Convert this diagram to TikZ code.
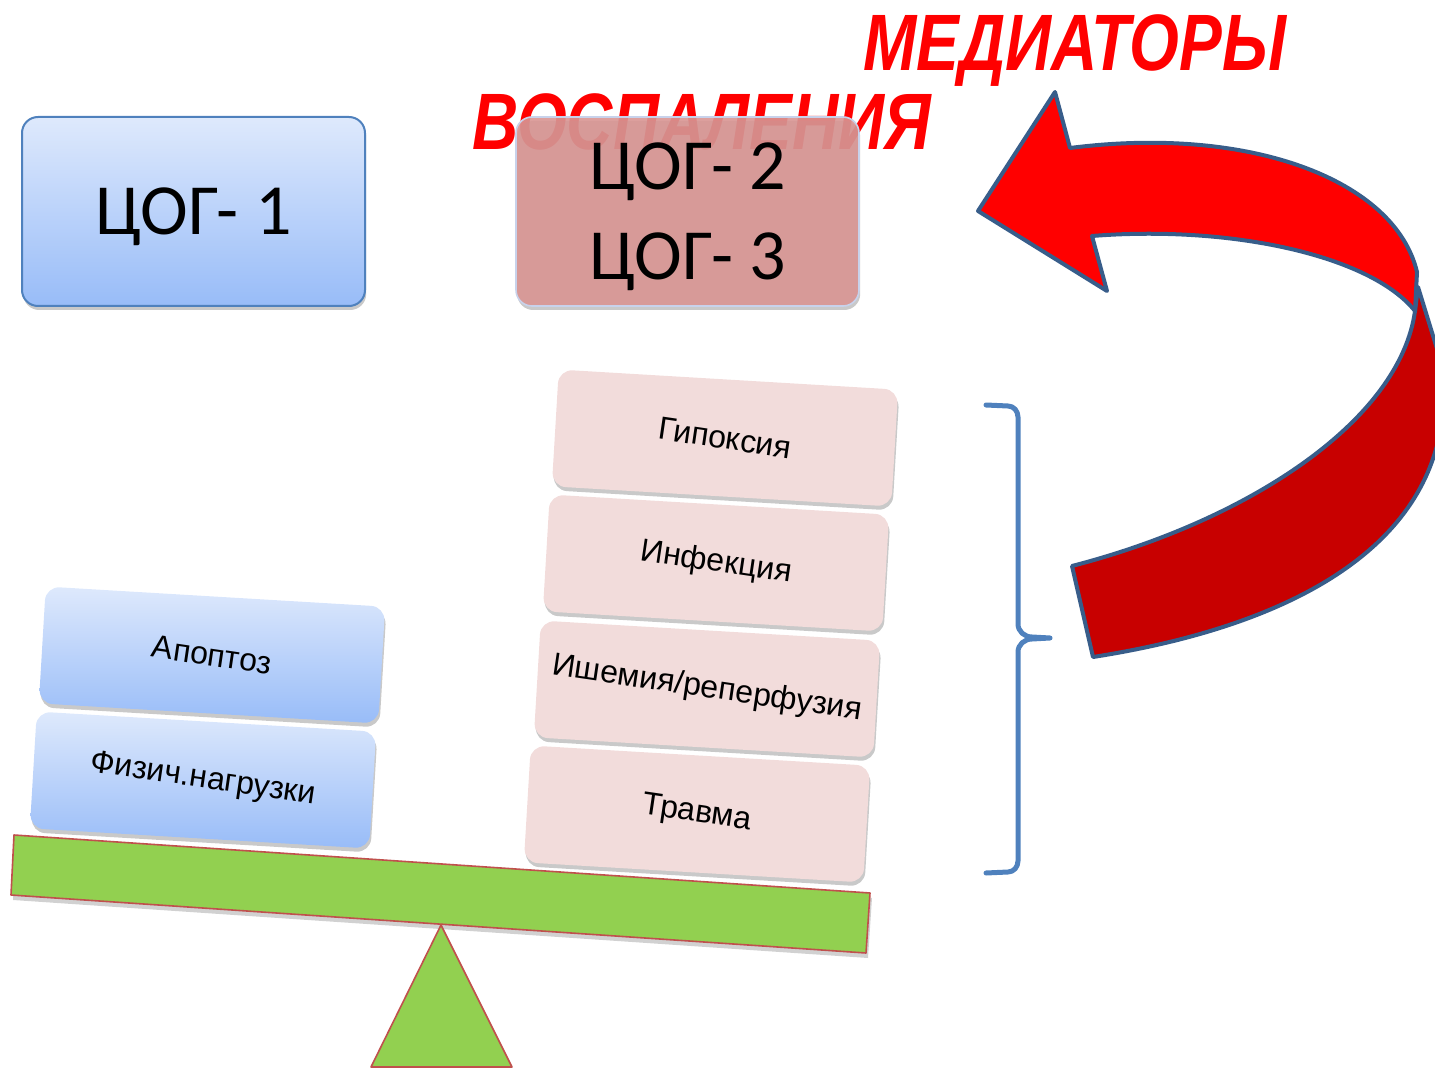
\documentclass[tikz,border=0pt]{standalone}
\usepackage{fontspec}
\setmainfont{Liberation Sans}
\newfontfamily\calib{Carlito}
\usetikzlibrary{shadows}
\definecolor{bluetop}{RGB}{222,233,252}
\definecolor{bluebot}{RGB}{152,188,248}
\definecolor{blueedge}{RGB}{79,129,189}
\definecolor{pinkbox}{RGB}{242,220,219}
\definecolor{rosebox}{RGB}{217,150,148}
\definecolor{roseedge}{RGB}{200,210,235}
\definecolor{beamgreen}{RGB}{146,208,80}
\definecolor{beamred}{RGB}{192,80,77}
\definecolor{arrowedge}{RGB}{56,93,138}
\definecolor{arrowred}{RGB}{255,0,0}
\definecolor{arrowdark}{RGB}{200,0,0}
\definecolor{titlered}{RGB}{255,0,0}
\definecolor{bracecol}{RGB}{79,129,189}
\newcommand{\tilted}[1]{\rotatebox{-5}{#1}}
\begin{document}
\begin{tikzpicture}[x=0.5pt,y=-0.5pt,
  softshadow/.style={drop shadow={shadow xshift=0.6pt, shadow yshift=-2pt, opacity=0.3, fill=black!70}},
  bigbox/.style={rounded corners=8pt, minimum width=171.5pt, minimum height=94.5pt,
    inner sep=0pt, align=center, softshadow},
  bigtext/.style={inner sep=0pt, align=center, text depth=0pt,
    font=\calib\fontsize{36}{45}\selectfont},
  smallbox/.style={rounded corners=7pt, minimum width=170pt, minimum height=58.5pt,
    inner sep=0pt, rotate=-3.4, softshadow, font=\fontsize{16}{19}\selectfont},
  causebox/.style={smallbox, fill=pinkbox},
  bluebox/.style={smallbox, top color=bluetop, bottom color=bluebot},
  titletext/.style={font=\bfseries\itshape\fontsize{40}{44}\selectfont, text=titlered, anchor=base, inner sep=0pt},
  beampart/.style={fill=beamgreen, draw=beamred, line width=0.8pt, line join=round},
  arrowpart/.style={draw=arrowedge, line width=2pt, line join=round},
  bracestyle/.style={draw=bracecol, line width=2.5pt, line cap=round, line join=round}
]
\useasboundingbox (0,0) rectangle (1435,1069);

% titles
\node[titletext] (med) at (1075,71) {\scalebox{0.80}[1]{МЕДИАТОРЫ}};
\node[titletext] (vosp) at (702,150) {\scalebox{0.80}[1]{ВОСПАЛЕНИЯ}};

% top boxes
\node[bigbox, top color=bluetop, bottom color=bluebot, draw=blueedge, line width=1pt] (cog1) at (193.5,211.5) {};
\node[bigtext] (cog1t) at (cog1.center) {ЦОГ- 1};
\node[bigbox, fill=rosebox, fill opacity=0.9, draw=roseedge, line width=0.8pt] (cog23) at (687.5,211.5) {};
\node[bigtext] (cog23t) at (688,211) {ЦОГ- 2\\ЦОГ- 3};

% beam and fulcrum
\fill[black, opacity=0.18] (16,840) -- (872,898) -- (868,958) -- (13,900) -- cycle;
\draw[beampart] (14,835) -- (870,893) -- (866,953) -- (11,895) -- cycle;
\draw[beampart] (441,925) -- (512,1067) -- (371,1067) -- cycle;

% cause boxes
\node[causebox] (hyp) at (725,438) {\tilted{Гипоксия}};
\node[causebox] (inf) at (716,563) {\tilted{Инфекция}};
\node[causebox] (isch) at (707,689) {\tilted{Ишемия/реперфузия}};
\node[causebox] (trav) at (697,814) {\tilted{Травма}};
\node[bluebox] (apo) at (212,655) {\tilted{Апоптоз}};
\node[bluebox] (fiz) at (203,780) {\tilted{Физич.нагрузки}};

% bracket
\draw[bracestyle] (986,405) -- (1008,406) to[out=0,in=90] (1018,417) -- (1018,624)
  to[out=-90,in=180] (1032,637) -- (1050,638) -- (1032,639)
  to[out=180,in=90] (1018,652) -- (1018,861) to[out=-90,in=0] (1008,872) -- (986,873);

% curved arrow
\begin{scope}
\clip (0,0) rectangle (1435,1069);
\draw[arrowpart, fill=arrowdark] (1415,311) -- (1418,287) -- (1442,365)
  .. controls (1460,520) and (1330,620) .. (1093,657) -- (1072,566)
  .. controls (1250,520) and (1400,420) .. (1415,311) -- cycle;
\draw[arrowpart, fill=arrowred] (1070,148) .. controls (1250,125) and (1395,180) .. (1417,272)
  -- (1415,311) .. controls (1370,255) and (1230,225) .. (1092,236)
  -- (1107,291) -- (978,211) -- (1055,92) -- cycle;
\end{scope}
\end{tikzpicture}
\end{document}
